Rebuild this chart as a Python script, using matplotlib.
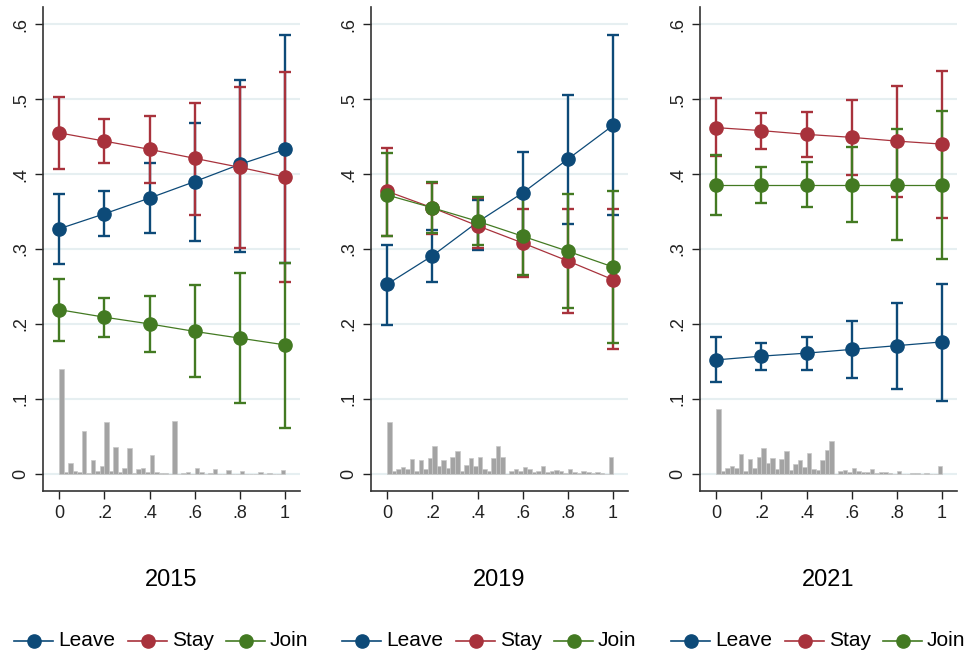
import numpy as np
import matplotlib
matplotlib.use("Agg")
import matplotlib.pyplot as plt
from matplotlib.lines import Line2D

plt.rcParams['font.family'] = ['Liberation Sans', 'DejaVu Sans']

years = ["2015", "2019", "2021"]
x = [0, 0.2, 0.4, 0.6, 0.8, 1.0]
xtick_labels = ["0", ".2", ".4", ".6", ".8", "1"]
ytick_labels = ["0", ".1", ".2", ".3", ".4", ".5", ".6"]
series = ["Leave", "Stay", "Join"]
colours = {"Leave": "#0d4a78", "Stay": "#a8323c", "Join": "#437a22"}

# point estimates
leave_2015 = [0.327, 0.347, 0.368, 0.390, 0.413, 0.433]
stay_2015 = [0.455, 0.444, 0.433, 0.421, 0.409, 0.396]
join_2015 = [0.219, 0.209, 0.200, 0.190, 0.181, 0.172]
leave_2019 = [0.253, 0.291, 0.336, 0.375, 0.420, 0.465]
stay_2019 = [0.377, 0.355, 0.331, 0.308, 0.284, 0.259]
join_2019 = [0.372, 0.355, 0.337, 0.317, 0.297, 0.276]
leave_2021 = [0.152, 0.157, 0.161, 0.166, 0.171, 0.176]
stay_2021 = [0.462, 0.458, 0.453, 0.449, 0.444, 0.440]
join_2021 = [0.386, 0.386, 0.386, 0.386, 0.386, 0.386]

# confidence interval bounds
leave_2015_lo = [0.280, 0.318, 0.322, 0.311, 0.296, 0.281]
leave_2015_hi = [0.374, 0.377, 0.415, 0.468, 0.526, 0.585]
stay_2015_lo = [0.407, 0.415, 0.388, 0.346, 0.301, 0.256]
stay_2015_hi = [0.503, 0.473, 0.478, 0.495, 0.516, 0.536]
join_2015_lo = [0.177, 0.183, 0.162, 0.129, 0.095, 0.061]
join_2015_hi = [0.260, 0.235, 0.237, 0.252, 0.268, 0.281]
leave_2019_lo = [0.199, 0.256, 0.299, 0.321, 0.334, 0.346]
leave_2019_hi = [0.306, 0.326, 0.365, 0.429, 0.505, 0.585]
stay_2019_lo = [0.318, 0.320, 0.301, 0.262, 0.214, 0.167]
stay_2019_hi = [0.435, 0.388, 0.368, 0.354, 0.354, 0.353]
join_2019_lo = [0.318, 0.322, 0.305, 0.265, 0.221, 0.175]
join_2019_hi = [0.428, 0.389, 0.369, 0.369, 0.374, 0.377]
leave_2021_lo = [0.123, 0.139, 0.139, 0.128, 0.113, 0.097]
leave_2021_hi = [0.182, 0.174, 0.183, 0.204, 0.228, 0.253]
stay_2021_lo = [0.424, 0.434, 0.423, 0.399, 0.370, 0.342]
stay_2021_hi = [0.501, 0.481, 0.483, 0.499, 0.518, 0.537]
join_2021_lo = [0.346, 0.362, 0.356, 0.336, 0.312, 0.287]
join_2021_hi = [0.425, 0.410, 0.416, 0.436, 0.460, 0.484]

# histogram of the share (50 bins of width .02)
hist_2015 = [0.140, 0.003, 0.014, 0.004, 0.003, 0.057, 0.001, 0.019, 0.004, 0.010,
             0.069, 0.004, 0.036, 0.002, 0.008, 0.035, 0.001, 0.007, 0.008, 0.003,
             0.025, 0.003, 0.001, 0.001, 0.000, 0.071, 0.000, 0.001, 0.003, 0.000,
             0.008, 0.003, 0.000, 0.001, 0.007, 0.000, 0.000, 0.005, 0.000, 0.000,
             0.004, 0.000, 0.000, 0.000, 0.002, 0.000, 0.001, 0.000, 0.000, 0.005]
hist_2019 = [0.069, 0.004, 0.007, 0.009, 0.006, 0.020, 0.004, 0.019, 0.007, 0.021,
             0.037, 0.011, 0.018, 0.008, 0.022, 0.030, 0.004, 0.012, 0.021, 0.010,
             0.023, 0.007, 0.004, 0.021, 0.037, 0.023, 0.000, 0.004, 0.007, 0.004,
             0.009, 0.006, 0.002, 0.004, 0.010, 0.003, 0.004, 0.005, 0.004, 0.001,
             0.007, 0.002, 0.001, 0.004, 0.002, 0.001, 0.003, 0.001, 0.000, 0.023]
hist_2021 = [0.086, 0.004, 0.008, 0.010, 0.008, 0.027, 0.004, 0.020, 0.008, 0.023,
             0.034, 0.014, 0.021, 0.007, 0.020, 0.031, 0.005, 0.013, 0.019, 0.009,
             0.028, 0.007, 0.005, 0.019, 0.032, 0.044, 0.000, 0.004, 0.005, 0.003,
             0.008, 0.004, 0.002, 0.002, 0.007, 0.001, 0.003, 0.003, 0.001, 0.000,
             0.004, 0.000, 0.000, 0.001, 0.001, 0.000, 0.001, 0.000, 0.000, 0.011]

panels = {
    "2015": {"hist": hist_2015,
             "Leave": (leave_2015, leave_2015_lo, leave_2015_hi),
             "Stay": (stay_2015, stay_2015_lo, stay_2015_hi),
             "Join": (join_2015, join_2015_lo, join_2015_hi)},
    "2019": {"hist": hist_2019,
             "Leave": (leave_2019, leave_2019_lo, leave_2019_hi),
             "Stay": (stay_2019, stay_2019_lo, stay_2019_hi),
             "Join": (join_2019, join_2019_lo, join_2019_hi)},
    "2021": {"hist": hist_2021,
             "Leave": (leave_2021, leave_2021_lo, leave_2021_hi),
             "Stay": (stay_2021, stay_2021_lo, stay_2021_hi),
             "Join": (join_2021, join_2021_lo, join_2021_hi)},
}

W, H = 972, 654
fig = plt.figure(figsize=(W / 100, H / 100), dpi=100)
fig.patch.set_facecolor("white")

lefts = [43, 371, 700]
ax_w = 257
ax_top, ax_bottom = 7, 491

# legend key start (handle left edge) per series, pixels relative to panel left
key_offsets = {"Leave": -29, "Stay": 85, "Join": 183}
key_len = 39
leg_y = 1 - 641 / H


def fx(px):
    return px / W


for left, year in zip(lefts, years):
    d = panels[year]
    ax = fig.add_axes([left / W, 1 - ax_bottom / H, ax_w / W, (ax_bottom - ax_top) / H])

    yt = np.arange(0, 0.61, 0.1)
    for v in yt:
        ax.axhline(v, color="#e6eff1", lw=1.5, zorder=0)

    edges = np.arange(50) * 0.02
    ax.bar(edges, d["hist"], width=0.02, align="edge", color="#a3a3a3",
           edgecolor="#c8c8c8", linewidth=0.5, zorder=1)

    for s in series:
        mid, lo, hi = d[s]
        mid = np.array(mid)
        yerr = [mid - np.array(lo), np.array(hi) - mid]
        ax.errorbar(x, mid, yerr=yerr, fmt="o-", color=colours[s], ms=9.5,
                    lw=0.9, elinewidth=1.7, capsize=4.5, capthick=1.7, zorder=3)

    ax.set_xlim(-0.072, 1.066)
    ax.set_ylim(-0.023, 0.623)
    ax.set_xticks(x)
    ax.set_xticklabels(xtick_labels, fontsize=13)
    ax.set_yticks(yt)
    ax.set_yticklabels(ytick_labels, fontsize=13, rotation=90, va="center")
    ax.tick_params(direction="out", length=6, width=1, colors="#222222", pad=4)
    for sp in ["top", "right"]:
        ax.spines[sp].set_visible(False)
    for sp in ["left", "bottom"]:
        ax.spines[sp].set_color("#333333")
        ax.spines[sp].set_linewidth(1.2)

    cx = (left + ax_w / 2) / W
    fig.text(cx, 1 - 580 / H, year, ha="center", va="center", fontsize=17)

    # hand-placed legend below each panel
    for s in series:
        x0 = left + key_offsets[s]
        xs = [fx(x0), fx(x0 + key_len / 2), fx(x0 + key_len)]
        fig.add_artist(Line2D(xs, [leg_y] * 3, color=colours[s], lw=1.2,
                              marker="o", ms=9.5, markevery=[1],
                              transform=fig.transFigure))
        fig.text(fx(x0 + key_len + 5), leg_y, s, ha="left", va="center",
                 fontsize=15)

fig.savefig("out.png", dpi=100)
